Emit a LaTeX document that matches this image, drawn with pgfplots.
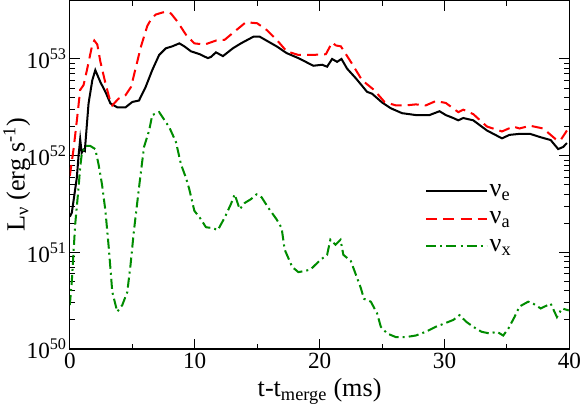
\documentclass[border=0pt]{standalone}
\usepackage{fontspec}
\setmainfont{Liberation Serif}
\usepackage{pgfplots}
\pgfplotsset{compat=1.18}
\definecolor{nxgreen}{RGB}{0,140,0}
\begin{document}
\begin{tikzpicture}
\begin{axis}[
  scale only axis, width=496pt, height=346pt,
  tick label style={font=\fontsize{23}{26}\selectfont},
  xticklabel style={inner xsep=0pt},
  yticklabel style={inner xsep=3pt},
  label style={font=\fontsize{26}{30}\selectfont},
  xmin=0, xmax=40, ymode=log, ymin=1e50, ymax=4.02e53,
  xtick={0,10,20,30,40}, minor xtick={5,15,25,35},
  ytick={1e50,1e51,1e52,1e53},
  yticklabels={10\textsuperscript{50},10\textsuperscript{51},10\textsuperscript{52},10\textsuperscript{53}},
  /pgf/number format/assume math mode=true,
  tick align=inside, major tick length=10pt, minor tick length=5pt,
  every tick/.style={black, line width=1pt},
  axis line style={line width=1.2pt},
  xlabel={t-t\textsubscript{merge} (ms)},
  ylabel={L\textsubscript{ν} (erg s\textsuperscript{-1})},
  xlabel style={yshift=-3pt},
  ylabel style={yshift=-10pt},
  legend style={draw=none, fill=none, at={(0.705,0.485)}, anchor=north west, row sep=10pt,
    font=\fontsize{26}{28}\selectfont},
  legend cell align=left,
  legend image code/.code={\draw[#1] (0pt,0pt) -- (60pt,0pt);},
]
\addplot[black, line width=2pt] coordinates {
(0.0,2.34e51) (0.16,2.57e51) (0.56,5.89e51) (0.7,1.0e52) (0.83,1.48e52) (0.95,1.07e52)
(1.1,1.15e52) (1.2,1.12e52) (1.5,3.47e52) (1.8,6.03e52) (2.04,7.67e52) (2.45,5.75e52)
(2.85,4.57e52) (3.25,3.47e52) (3.8,3.16e52) (4.46,3.16e52) (5.0,3.59e52) (5.54,3.72e52)
(6.07,5.13e52) (6.6,7.67e52) (7.15,1.10e53) (7.69,1.29e53) (8.2,1.35e53) (8.77,1.45e53)
(9.17,1.35e53) (9.7,1.20e53) (10.4,1.12e53) (11.05,1.02e53) (11.3,1.05e53) (11.7,1.17e53)
(12.26,1.07e53) (13.06,1.29e53) (13.7,1.45e53) (14.7,1.70e53) (15.2,1.70e53) (15.9,1.51e53)
(16.56,1.35e53) (17.36,1.15e53) (18.3,1.02e53) (19.5,8.51e52) (20.2,8.71e52) (20.6,8.32e52)
(21.0,1.0e53) (21.4,9.33e52) (21.75,1.0e53) (22.2,7.94e52) (22.9,6.31e52) (23.8,4.57e52)
(24.2,4.37e52) (25.0,3.55e52) (25.7,3.09e52) (26.6,2.75e52) (27.7,2.63e52) (28.8,2.63e52)
(29.6,2.88e52) (30.1,2.63e52) (30.7,2.45e52) (31.1,2.32e52) (31.5,2.45e52) (32.3,2.32e52)
(33.4,1.82e52) (34.6,1.51e52) (35.2,1.64e52) (36.0,1.68e52) (36.85,1.68e52) (37.7,1.55e52)
(38.5,1.45e52) (39.1,1.17e52) (39.5,1.23e52) (39.8,1.35e52)
};
\addlegendentry{ν\textsubscript{e}}
\addplot[red, line width=2pt, dash pattern=on 11pt off 6pt] coordinates {
(0.0,6.17e51) (0.3,1.17e52) (0.56,2.29e52) (0.83,4.79e52) (1.1,5.37e52) (1.37,7.67e52)
(1.77,1.35e53) (1.96,1.55e53) (2.2,1.41e53) (2.45,9.33e52) (2.85,5.62e52) (3.25,3.59e52)
(3.4,3.31e52) (3.9,3.89e52) (4.46,4.22e52) (4.9,5.13e52) (5.3,8.32e52) (5.7,1.35e53)
(6.2,2.19e53) (6.5,2.57e53) (6.88,2.88e53) (7.4,3.02e53) (7.8,3.09e53) (8.1,2.95e53)
(8.6,2.45e53) (9.3,1.78e53) (9.97,1.45e53) (10.8,1.41e53) (11.7,1.55e53) (12.4,1.58e53)
(13.1,1.88e53) (14.1,2.40e53) (15.0,2.34e53) (15.75,2.0e53) (16.56,1.58e53) (17.36,1.20e53)
(18.3,1.10e53) (19.4,1.10e53) (20.5,1.12e53) (21.0,1.48e53) (21.3,1.38e53) (21.7,1.35e53)
(22.5,9.33e52) (23.4,6.03e52) (24.35,4.79e52) (25.2,3.59e52) (26.1,3.31e52) (26.9,3.31e52)
(27.7,3.39e52) (28.5,3.31e52) (29.3,3.67e52) (30.1,3.51e52) (31.1,2.82e52) (31.5,2.99e52)
(32.3,2.69e52) (33.4,2.0e52) (34.6,1.78e52) (35.5,2.0e52) (36.0,1.91e52) (36.85,2.04e52)
(37.9,1.91e52) (38.9,1.48e52) (39.3,1.45e52) (39.8,1.82e52)
};
\addlegendentry{ν\textsubscript{a}}
\addplot[nxgreen, line width=2pt, dash pattern=on 10pt off 4pt on 2pt off 4pt] coordinates {
(0.0,2.85e50) (0.16,5.01e50) (0.43,1.95e51) (0.7,4.68e51) (0.83,7.59e51) (0.96,1.05e52)
(1.23,1.26e52) (1.64,1.26e52) (2.04,1.17e52) (2.3,8.13e51) (2.58,5.01e51) (2.85,2.69e51)
(3.12,1.11e51) (3.4,3.89e50) (3.8,2.43e50) (4.2,2.85e50) (4.6,3.89e50) (4.86,7.41e50)
(5.13,1.66e51) (5.54,4.68e51) (5.94,1.23e52) (6.35,1.82e52) (6.6,2.63e52) (7.15,2.82e52)
(7.96,1.97e52) (8.5,1.38e52) (8.9,8.13e51) (9.3,5.89e51) (9.57,4.47e51) (9.97,2.69e51)
(10.4,2.29e51) (10.9,1.82e51) (11.45,1.78e51) (11.85,1.70e51) (12.4,2.29e51) (12.9,3.16e51)
(13.2,3.98e51) (13.6,2.79e51) (14.0,3.24e51) (14.5,3.55e51) (14.95,3.98e51) (15.35,3.72e51)
(15.9,2.88e51) (16.56,2.19e51) (16.96,1.78e51) (17.2,1.07e51) (17.8,7.08e50) (18.3,6.24e50)
(19.25,6.61e50) (20.05,8.32e50) (20.6,9.44e50) (20.86,1.35e51) (21.27,1.20e51) (21.67,1.35e51)
(21.9,9.44e50) (22.5,8.13e50) (22.9,5.89e50) (23.3,4.27e50) (23.55,3.31e50) (24.1,3.09e50)
(24.6,2.34e50) (24.9,1.70e50) (25.4,1.45e50) (26.1,1.33e50) (26.9,1.33e50) (27.7,1.38e50)
(28.5,1.51e50) (29.3,1.70e50) (30.0,1.84e50) (30.7,2.0e50) (31.2,2.24e50) (31.75,1.91e50)
(32.3,1.70e50) (32.96,1.51e50) (33.6,1.45e50) (34.2,1.51e50) (34.7,1.38e50) (35.1,1.62e50)
(35.6,2.14e50) (36.0,2.75e50) (36.7,3.09e50) (37.1,2.95e50) (37.7,2.63e50) (38.5,2.95e50)
(39.0,2.14e50) (39.4,2.63e50) (39.95,2.51e50)
};
\addlegendentry{ν\textsubscript{x}}
\end{axis}
\end{tikzpicture}
\end{document}
